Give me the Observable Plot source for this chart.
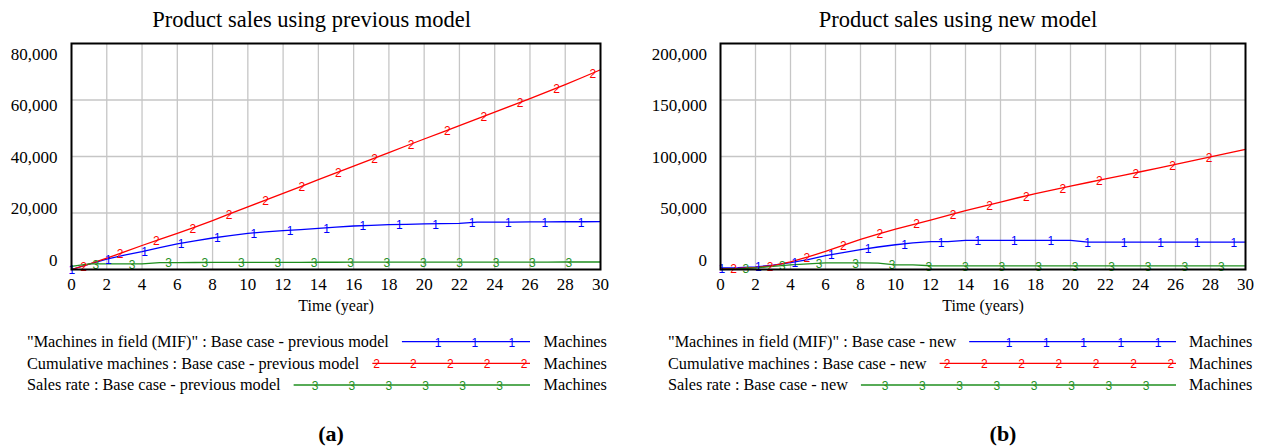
<!DOCTYPE html>
<html><head><meta charset="utf-8">
<script src="https://cdn.jsdelivr.net/npm/d3@7"></script>
<script src="https://cdn.jsdelivr.net/npm/@observablehq/plot@0.6"></script>
<style>
body{margin:0;background:#fff;}
#root{position:relative;width:1261px;height:447px;font-family:"Liberation Serif","Times New Roman",serif;color:#000;overflow:hidden;background:#fff}
.abs{position:absolute;white-space:nowrap;transform:translate(-50%,-50%);line-height:1}
.title{font-size:22.5px}
.cap{font-size:22px;font-weight:bold}
#root svg text{font-family:"Liberation Serif","Times New Roman",serif}
#root svg text.digit, #root svg g.digit text{font-family:"Liberation Sans",Arial,sans-serif}
</style></head><body><div id="root"></div>
<script>
// ---- data ----
const years = [0,1,2,3,4,5,6,7,8,9,10,11,12,13,14,15,16,17,18,19,20,21,22,23,24,25,26,27,28,29,30];
const mifPrev   = [0,1900,3700,5100,6350,7750,9050,10150,11150,12000,12800,13300,13750,14150,14550,15000,15400,15650,15850,16000,16150,16250,16300,16750,16800,16800,16850,16850,16900,16900,16950];
const cumPrev   = [0,1900,4000,6200,8500,10700,12800,15000,17300,19750,22150,24550,26950,29350,31800,34200,36600,39000,41400,43800,46200,48550,50900,53300,55700,58100,60500,62950,65450,68050,70700];
const salesPrev = [1100,2000,2000,2000,2000,2450,2450,2480,2500,2500,2520,2530,2540,2550,2560,2570,2580,2590,2600,2600,2610,2610,2620,2620,2630,2630,2640,2640,2650,2650,2650];
const mifNew    = [1500,1600,2300,3800,6100,8800,12300,14900,17500,19900,21900,23600,24600,24600,25750,25750,25750,25750,25750,25750,25750,24300,24300,24300,24300,24300,24300,24300,24300,24300,24300];
const cumNew    = [800,900,1800,3500,6700,11100,16000,21300,26600,31300,35700,39800,43800,48000,52000,55900,59700,63500,67100,70500,73800,77000,80200,83300,86500,89800,93100,96400,99700,103000,106300];
const salesNew  = [0,600,1500,2700,4100,5000,5800,5800,5800,5700,4100,4100,3300,3250,3250,3250,3250,3250,3250,3250,3250,3250,3250,3250,3250,3250,3250,3250,3250,3250,3250];
const xTicks = [0,2,4,6,8,10,12,14,16,18,20,22,24,26,28,30];
const yTicksPrev = [80000,60000,40000,20000,0];
const yTicksNew = [200000,150000,100000,50000,0];
const seriesNames = ['"Machines in field (MIF)"', "Cumulative machines", "Sales rate"];
const seriesDigits = ["1","2","3"];
const unitLabel = "Machines";
const titles = ["Product sales using previous model", "Product sales using new model"];
const xLabels = ["Time (year)", "Time (years)"];
const runNames = ["Base case - previous model", "Base case - new"];
const captions = ["(a)", "(b)"];
const colors = ["#0000ff", "#ff0000", "#1f8f1f"];

const SERIF = '"Liberation Serif", "Times New Roman", serif';
const SANS = '"Liberation Sans", Arial, sans-serif';
const root = document.getElementById("root");

function interp(vals, t) {
  const i = Math.max(0, Math.min(years.length - 2, d3.bisectRight(years, t) - 1));
  const f = (t - years[i]) / (years[i+1] - years[i]);
  return vals[i] * (1 - f) + vals[i+1] * f;
}

function chart({values, yMax, yTicks, xLabel, width, marginLeft, marginRight, step, offsets, tickPad}) {
  const rows = [];
  values.forEach((vals, s) => years.forEach((t, i) => rows.push({t, v: vals[i], s})));
  const markers = [];
  values.forEach((vals, s) => {
    for (let t = offsets[s]; t < 29.9; t += step) markers.push({t, v: interp(vals, t), s});
  });
  const gridStyle = {stroke: "#c6c6c6", strokeOpacity: 1, strokeWidth: 1.3};
  return Plot.plot({
    width, height: 290, marginLeft, marginRight, marginTop: 13, marginBottom: 51,
    x: {domain: [0, 30]},
    y: {domain: [0, yMax]},
    color: {type: "identity"},
    style: {fontFamily: SERIF, fontSize: "17px", color: "#000", background: "transparent", overflow: "visible"},
    marks: [
      Plot.gridX(xTicks.filter(d => d > 0 && d < 30), gridStyle),
      Plot.gridY(yTicks.filter(d => d > 0 && d < yMax), gridStyle),
      Plot.axisX(xTicks, {tickSize: 0, tickPadding: 8, tickFormat: d => String(d), label: null, fontSize: 17, fontFamily: SERIF}),
      ...yTicks.map((v, i) => Plot.axisY([v], {tickSize: 0, tickPadding: tickPad, tickFormat: d3.format(","), label: null, fontSize: 17, fontFamily: SERIF, dy: 11 - i * 5})),
      Plot.line(rows, {x: "t", y: "v", z: "s", stroke: d => colors[d.s], strokeWidth: 1.3}),
      Plot.text(markers, {x: "t", y: "v", text: d => seriesDigits[d.s], fill: d => colors[d.s], fontFamily: SANS, fontSize: 12, dy: 1, className: "digit"}),
      Plot.frame({stroke: "#000", strokeWidth: 2}),
      Plot.text([xLabel], {frameAnchor: "bottom", lineAnchor: "middle", text: d => d, dy: 36, fontSize: 16, fontFamily: SERIF})
    ]
  });
}

const left = chart({values: [mifPrev, cumPrev, salesPrev], yMax: 80000, yTicks: yTicksPrev, xLabel: xLabels[0],
  width: 620, marginLeft: 71, marginRight: 20, step: 2.063, offsets: [0.02, 0.69, 1.38], tickPad: 14});
left.style.position = "absolute"; left.style.left = "0px"; left.style.top = "30px";
root.appendChild(left);

const right = chart({values: [mifNew, cumNew, salesNew], yMax: 200000, yTicks: yTicksNew, xLabel: xLabels[1],
  width: 621, marginLeft: 80, marginRight: 16, step: 2.09, offsets: [0.07, 0.75, 1.45], tickPad: 13.5});
right.style.position = "absolute"; right.style.left = "640px"; right.style.top = "30px";
root.appendChild(right);

// titles and captions
[[titles[0], 311.7, 20, "title"], [titles[1], 958, 20, "title"], [captions[0], 331, 434, "cap"], [captions[1], 1003, 434, "cap"]]
  .forEach(([txt, x, y, cls]) => {
    const d = document.createElement("div");
    d.className = "abs " + cls; d.textContent = txt;
    d.style.left = x + "px"; d.style.top = y + "px";
    root.appendChild(d);
  });

// legends
const leg = d3.select(root).append("svg")
  .attr("width", 1261).attr("height", 70)
  .style("position", "absolute").style("left", "0px").style("top", "330px");
const rowY = [11.7, 33.3, 55];
const legCfg = [
  {textX: 27, lineEnd: 530, unitX: 543.6, base: 401.1, spacing: 36.9, off: 12.3},
  {textX: 668, lineEnd: 1176, unitX: 1189, base: 1009, spacing: 37.3, off: 12.6}
];
legCfg.forEach((cfg, c) => {
  seriesNames.forEach((name, s) => {
    const y = rowY[s];
    const t = leg.append("text").attr("x", cfg.textX).attr("y", y).attr("dy", "0.32em")
      .attr("font-size", 16.3).text(`${name} : ${runNames[c]}`);
    const end = cfg.textX + t.node().getComputedTextLength();
    const x0 = end + 13;
    leg.append("line").attr("x1", x0).attr("x2", cfg.lineEnd).attr("y1", y).attr("y2", y)
      .attr("stroke", colors[s]).attr("stroke-width", 1.3);
    let p = cfg.base + s * cfg.off;
    while (p > x0 + 3) p -= cfg.spacing;
    while (p < x0 + 3) p += cfg.spacing;
    for (; p < cfg.lineEnd - 3; p += cfg.spacing) {
      leg.append("text").attr("class", "digit").attr("x", p).attr("y", y + 1).attr("dy", "0.32em").attr("text-anchor", "middle")
        .attr("font-size", 12).attr("fill", colors[s]).text(seriesDigits[s]);
    }
    leg.append("text").attr("x", cfg.unitX).attr("y", y).attr("dy", "0.32em")
      .attr("font-size", 16.3).text(unitLabel);
  });
});
</script></body></html>
